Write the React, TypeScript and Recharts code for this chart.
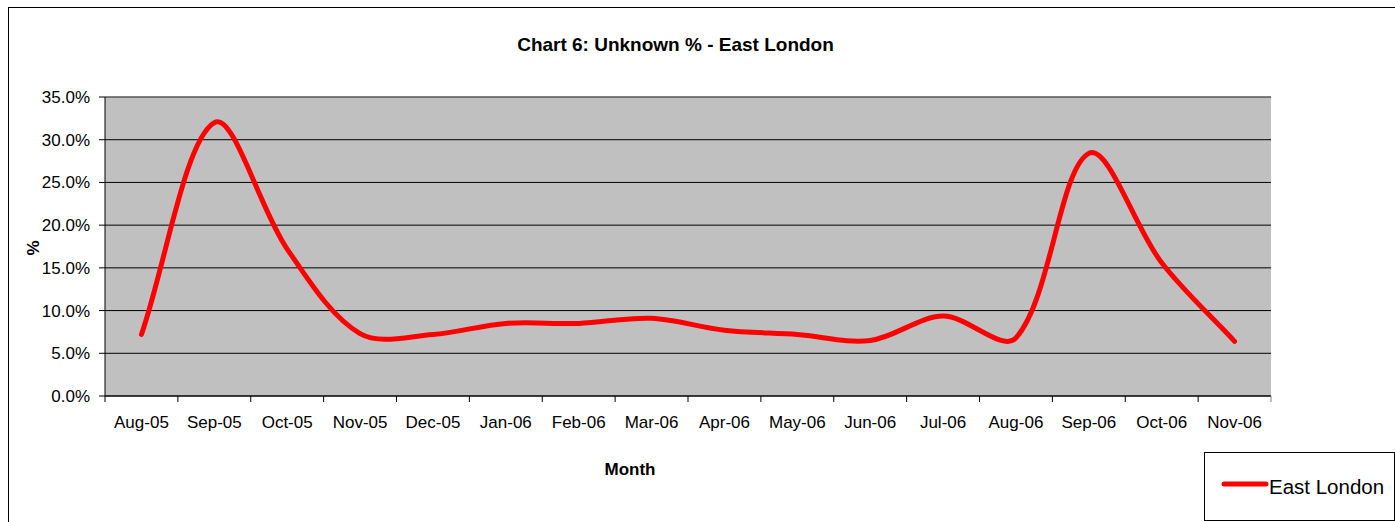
import React from 'react'
import { LineChart, Line, XAxis, YAxis, CartesianGrid, Legend, ReferenceLine } from 'recharts'

const months = ['Aug-05', 'Sep-05', 'Oct-05', 'Nov-05', 'Dec-05', 'Jan-06', 'Feb-06', 'Mar-06', 'Apr-06', 'May-06', 'Jun-06', 'Jul-06', 'Aug-06', 'Sep-06', 'Oct-06', 'Nov-06']
const eastLondon = [0.072, 0.32, 0.172, 0.073, 0.072, 0.085, 0.085, 0.091, 0.077, 0.072, 0.065, 0.0935, 0.068, 0.284, 0.156, 0.064]
const yTicks = [0, 0.05, 0.1, 0.15, 0.2, 0.25, 0.3, 0.35]

const data = months.map((month, i) => ({ month, eastLondon: eastLondon[i] }))

// plot is 1166px wide, 16 months
const BAND = 1166 / 16

// Excel-style smoothed line: bezier with chord-weighted catmull-rom control points
const excelSmooth = (context: any) => {
  let pts: number[][] = []
  const dist = (a: number[], b: number[]) => Math.hypot(b[0] - a[0], b[1] - a[1])
  return {
    areaStart() {},
    areaEnd() {},
    lineStart() { pts = [] },
    point(x: number, y: number) { pts.push([+x, +y]) },
    lineEnd() {
      const n = pts.length
      if (!n) return
      context.moveTo(pts[0][0], pts[0][1])
      for (let i = 0; i < n - 1; i++) {
        const p0 = pts[Math.max(i - 1, 0)], p1 = pts[i], p2 = pts[i + 1], p3 = pts[Math.min(i + 2, n - 1)]
        const d01 = dist(p0, p1), d12 = dist(p1, p2), d23 = dist(p2, p3)
        const f1 = d01 + d12 ? d12 / (d01 + d12) / 3 : 0
        const f2 = d12 + d23 ? d12 / (d12 + d23) / 3 : 0
        context.bezierCurveTo(
          p1[0] + (p2[0] - p0[0]) * f1, p1[1] + (p2[1] - p0[1]) * f1,
          p2[0] - (p3[0] - p1[0]) * f2, p2[1] - (p3[1] - p1[1]) * f2,
          p2[0], p2[1]
        )
      }
    },
  }
}

function MonthTick(props: any) {
  const { x, y, payload, index } = props
  const last = index === months.length - 1
  return (
    <g>
      <line x1={x - BAND / 2} y1={y - 6} x2={x - BAND / 2} y2={y} stroke="#000" />
      {last && <line x1={x + BAND / 2} y1={y - 6} x2={x + BAND / 2} y2={y} stroke="#808080" />}
      <text x={x} y={y + 26} textAnchor="middle" fontSize={17} fill="#000">{payload.value}</text>
    </g>
  )
}

function LegendBox(props: any) {
  const item = props.payload && props.payload[0]
  return (
    <div style={{ position: 'relative', width: 191, height: 69, boxSizing: 'border-box', border: '1px solid #000', background: '#fff' }}>
      <svg width={189} height={67} style={{ position: 'absolute', left: 0, top: 0 }}>
        <line x1={19} y1={31} x2={61} y2={31} stroke={item ? item.color : '#f00'} strokeWidth={5} strokeLinecap="round" />
        <text x={64} y={41} fontSize={20.5} fill="#000">{item ? item.value : 'East London'}</text>
      </svg>
    </div>
  )
}

export default function App() {
  return (
    <div style={{ position: 'absolute', left: 8, top: 7, width: 1386, height: 514, borderLeft: '1px solid #000', borderTop: '1px solid #000', overflow: 'hidden', background: '#fff', fontFamily: '"Liberation Sans", Arial, sans-serif' }}>
      <div style={{ position: 'absolute', left: 0, top: 27, width: 1333, textAlign: 'center', fontSize: 19, lineHeight: '19px', fontWeight: 'bold', color: '#000' }}>
        Chart 6: Unknown % - East London
      </div>
      <LineChart width={1386} height={514} data={data} margin={{ top: 89, right: 124, bottom: 86, left: 36 }}>
        <CartesianGrid vertical={false} stroke="#000" fill="#c0c0c0" fillOpacity={1} />
        <ReferenceLine y={0.35} stroke="#808080" />
        <XAxis
          dataKey="month"
          interval={0}
          height={40}
          padding={{ left: BAND / 2, right: BAND / 2 }}
          axisLine={{ stroke: '#000' }}
          tickLine={false}
          tickSize={6}
          tickMargin={0}
          tick={<MonthTick />}
          label={{
            content: () => (
              <text x={621} y={467} textAnchor="middle" fontSize={17} fontWeight="bold" fill="#000">Month</text>
            ),
          }}
        />
        <YAxis
          domain={[0, 0.35]}
          ticks={yTicks}
          width={60}
          axisLine={{ stroke: '#000' }}
          tickLine={{ stroke: '#000' }}
          tickSize={6}
          tickMargin={9}
          tick={{ fontSize: 17, fill: '#000' }}
          tickFormatter={(v: number) => (v * 100).toFixed(1) + '%'}
          label={{
            content: () => (
              <text x={30} y={240} transform="rotate(-90 30 240)" textAnchor="middle" fontSize={17} fontWeight="bold" fill="#000">%</text>
            ),
          }}
        />
        <YAxis yAxisId="right" orientation="right" width={0} domain={[0, 0.35]} tick={false} tickLine={false} axisLine={{ stroke: '#808080' }} />
        <Legend
          layout="horizontal"
          verticalAlign="middle"
          content={<LegendBox />}
          wrapperStyle={{ position: 'absolute', left: 1195, top: 444, width: 191, height: 69 }}
        />
        <Line
          type={excelSmooth as any}
          dataKey="eastLondon"
          name="East London"
          stroke="#ff0000"
          strokeWidth={5}
          strokeLinecap="round"
          dot={false}
          activeDot={false}
          isAnimationActive={false}
        />
      </LineChart>
    </div>
  )
}
